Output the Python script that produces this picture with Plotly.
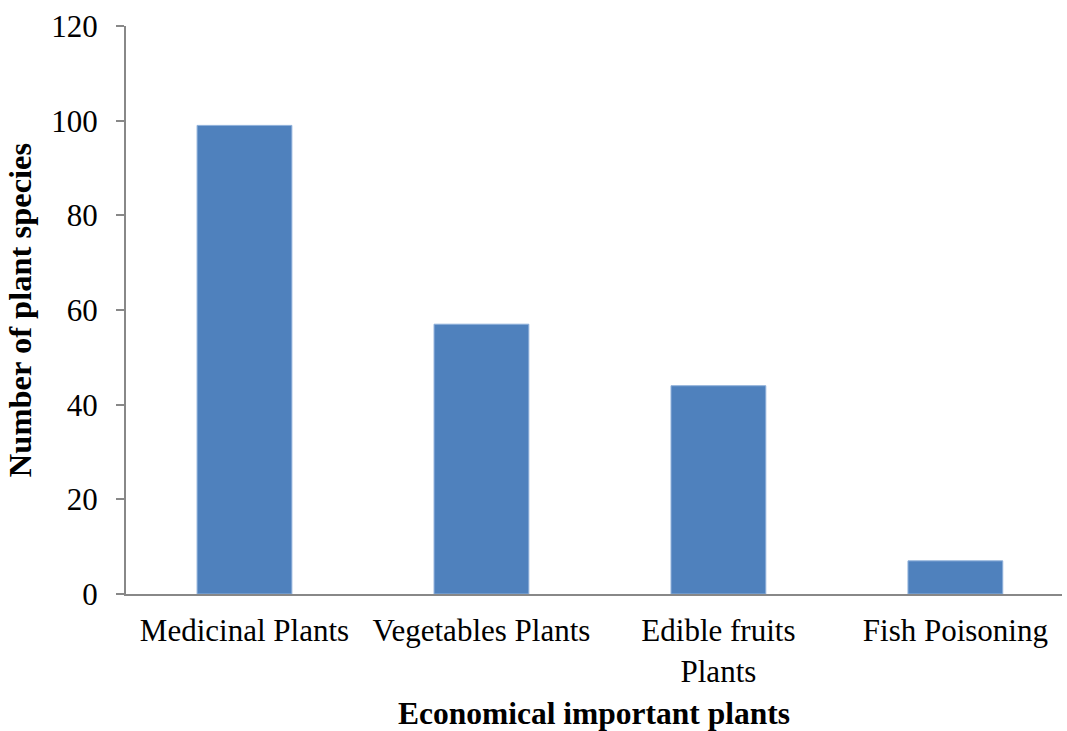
import plotly.graph_objects as go

categories = ["Medicinal Plants", "Vegetables Plants", "Edible fruits<br>Plants", "Fish Poisoning"]
species_counts = [99, 57, 44, 7]
y_ticks = [0, 20, 40, 60, 80, 100, 120]

font_family = "Liberation Serif, Times New Roman, serif"
axis_color = "#888888"

fig = go.Figure(
    go.Bar(
        x=categories,
        y=species_counts,
        marker=dict(color="#4F81BD", line=dict(color="#8FB0DA", width=1)),
        width=0.40,
    )
)

fig.update_layout(
    width=1067,
    height=731,
    margin=dict(l=126, r=5, t=26, b=137),
    plot_bgcolor="white",
    paper_bgcolor="white",
    font=dict(family=font_family, size=32, color="black"),
    showlegend=False,
)

# the category band runs slightly past the right edge of the frame
fig.update_xaxes(
    range=[-0.5, 3.45],
    showline=True,
    linecolor=axis_color,
    linewidth=2,
    ticks="",
    showgrid=False,
    tickfont=dict(size=31),
    ticklabelstandoff=8,
    title=dict(text="<b>Economical important plants</b>", font=dict(size=31.5), standoff=14),
)

fig.update_yaxes(
    range=[0, 120],
    tickvals=y_ticks,
    showline=True,
    linecolor=axis_color,
    linewidth=2,
    ticks="outside",
    ticklen=8,
    tickcolor=axis_color,
    tickwidth=2,
    showgrid=False,
    zeroline=False,
    tickfont=dict(size=31),
    ticklabelstandoff=12,
    title=dict(text="<b>Number of plant species</b>", font=dict(size=32.5), standoff=10),
)

fig.write_html("out.html")
